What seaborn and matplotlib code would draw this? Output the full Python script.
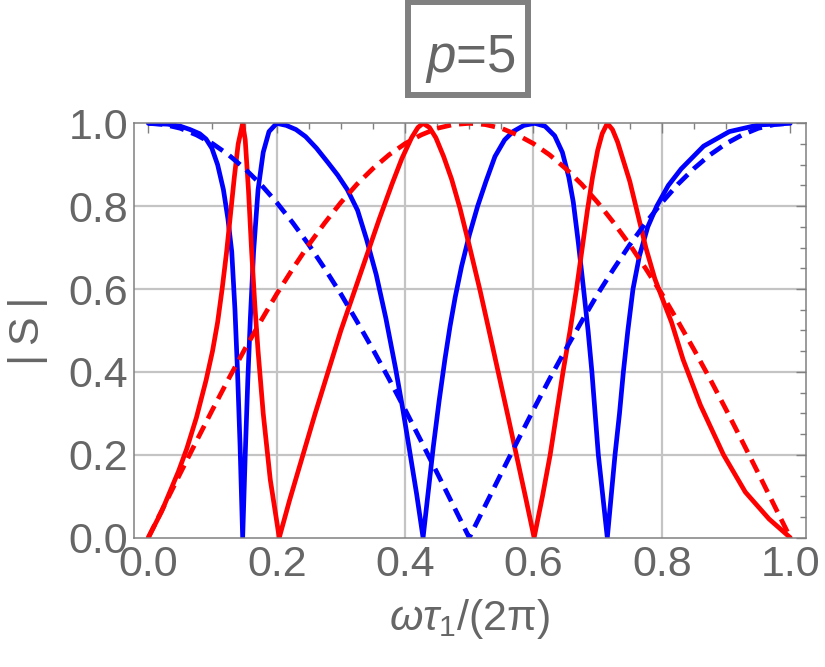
import numpy as np
import matplotlib
matplotlib.use("Agg")
import matplotlib.pyplot as plt
import pandas as pd
import seaborn as sns
from matplotlib.patches import Rectangle
from matplotlib.ticker import MultipleLocator, FormatStrFormatter

# values
blue_x = [0, 0.03, 0.05, 0.065, 0.08, 0.09, 0.099, 0.108, 0.117, 0.124, 0.13, 0.135,
          0.139, 0.143, 0.147, 0.151, 0.155, 0.159, 0.164, 0.171, 0.179, 0.188, 0.2,
          0.215, 0.23, 0.245, 0.262, 0.28, 0.295, 0.31, 0.326, 0.34, 0.355, 0.37,
          0.385, 0.397, 0.407, 0.418, 0.428, 0.436, 0.444, 0.453, 0.462, 0.47, 0.478,
          0.488, 0.5, 0.513, 0.526, 0.54, 0.555, 0.568, 0.585, 0.602, 0.618, 0.633,
          0.645, 0.655, 0.662, 0.67, 0.678, 0.685, 0.691, 0.696, 0.701, 0.708, 0.715,
          0.721, 0.727, 0.734, 0.74, 0.747, 0.755, 0.765, 0.778, 0.792, 0.81, 0.83,
          0.865, 0.905, 0.95, 1.0]
blue_y = [1.0, 0.998, 0.993, 0.985, 0.975, 0.962, 0.94, 0.90, 0.84, 0.77, 0.69, 0.55,
          0.40, 0.22, 0.0, 0.2, 0.38, 0.53, 0.69, 0.84, 0.93, 0.98, 1.0,
          0.995, 0.985, 0.968, 0.94, 0.905, 0.875, 0.84, 0.79, 0.72, 0.635, 0.53,
          0.41, 0.305, 0.21, 0.105, 0.0, 0.11, 0.22, 0.33, 0.43, 0.51, 0.58,
          0.655, 0.73, 0.80, 0.86, 0.92, 0.96, 0.98, 0.995, 1.0, 0.993, 0.97,
          0.93, 0.87, 0.81, 0.71, 0.60, 0.50, 0.40, 0.30, 0.20, 0.10, 0.0,
          0.1, 0.2, 0.3, 0.4, 0.5, 0.6, 0.68, 0.75, 0.80, 0.85, 0.89,
          0.945, 0.98, 0.996, 1.0]

red_x = [0, 0.021, 0.047, 0.06, 0.075, 0.09, 0.1, 0.108, 0.115, 0.122, 0.128, 0.134,
         0.14, 0.147, 0.151, 0.156, 0.161, 0.166, 0.171, 0.179, 0.19, 0.204,
         0.22, 0.24, 0.26, 0.28, 0.30, 0.32, 0.34, 0.36, 0.38, 0.395, 0.41, 0.42,
         0.428, 0.438, 0.448, 0.46, 0.4725, 0.4855, 0.5, 0.517, 0.53, 0.545, 0.56,
         0.574, 0.588, 0.601, 0.614, 0.626, 0.636, 0.646, 0.657, 0.667, 0.676, 0.684,
         0.692, 0.7, 0.707, 0.715, 0.723, 0.731, 0.738, 0.75, 0.761, 0.775, 0.789,
         0.8, 0.815, 0.833, 0.86, 0.896, 0.93, 0.967, 1.0]
red_y = [0.0, 0.064, 0.16, 0.215, 0.29, 0.38, 0.45, 0.52, 0.60, 0.69, 0.78, 0.87,
         0.95, 1.0, 0.96, 0.84, 0.69, 0.56, 0.45, 0.30, 0.14, 0.0,
         0.09, 0.195, 0.30, 0.40, 0.50, 0.59, 0.68, 0.77, 0.855, 0.915, 0.965, 0.99,
         1.0, 0.99, 0.965, 0.92, 0.865, 0.795, 0.705, 0.595, 0.505, 0.40, 0.295,
         0.195, 0.095, 0.0, 0.1, 0.2, 0.3, 0.4, 0.5, 0.6, 0.7, 0.79,
         0.87, 0.935, 0.975, 1.0, 0.985, 0.955, 0.92, 0.86, 0.79, 0.70, 0.625,
         0.58, 0.52, 0.43, 0.32, 0.2, 0.11, 0.045, 0.0]

dash_x = [0, 0.025, 0.05, 0.075, 0.1, 0.125, 0.15, 0.175, 0.2, 0.225, 0.25, 0.275,
          0.3, 0.325, 0.35, 0.375, 0.4, 0.425, 0.45, 0.475, 0.5, 0.525, 0.55, 0.575,
          0.6, 0.625, 0.65, 0.675, 0.7, 0.725, 0.75, 0.775, 0.8, 0.825, 0.85, 0.875,
          0.9, 0.925, 0.95, 0.975, 1.0]
blue_dash_y = [1.0, 0.997, 0.988, 0.972, 0.951, 0.924, 0.891, 0.853, 0.809, 0.760, 0.707,
               0.649, 0.588, 0.522, 0.454, 0.383, 0.309, 0.233, 0.156, 0.078, 0.0,
               0.078, 0.156, 0.233, 0.309, 0.383, 0.454, 0.522, 0.588, 0.649, 0.707,
               0.760, 0.809, 0.853, 0.891, 0.924, 0.951, 0.972, 0.988, 0.997, 1.0]
red_dash_y = [0.0, 0.078, 0.156, 0.233, 0.309, 0.383, 0.454, 0.522, 0.588, 0.649, 0.707,
              0.760, 0.809, 0.853, 0.891, 0.924, 0.951, 0.972, 0.988, 0.997, 1.0,
              0.997, 0.988, 0.972, 0.951, 0.924, 0.891, 0.853, 0.809, 0.760, 0.707,
              0.649, 0.588, 0.522, 0.454, 0.383, 0.309, 0.233, 0.156, 0.078, 0.0]

x_ticks = [0.0, 0.2, 0.4, 0.6, 0.8, 1.0]
y_ticks = [0.0, 0.2, 0.4, 0.6, 0.8, 1.0]

sns.set_style("white")
plt.rcParams['font.family'] = ['Liberation Sans', 'DejaVu Sans']
plt.rcParams['mathtext.fontset'] = 'custom'
plt.rcParams['mathtext.rm'] = 'Liberation Sans'
plt.rcParams['mathtext.it'] = 'Liberation Sans:italic'

gray = '#666666'
fig = plt.figure(figsize=(8.25, 6.67), dpi=100)
ax = fig.add_axes([0.1624, 0.1939, 0.8145, 0.6212])

for v in x_ticks[1:-1]:
    ax.axvline(v, color='#c4c4c4', lw=1.6, zorder=0)
for v in y_ticks[1:-1]:
    ax.axhline(v, color='#c4c4c4', lw=1.6, zorder=0)

lw = 3.4
sns.lineplot(x=blue_x, y=blue_y, ax=ax, color='#0000ff', lw=lw, estimator=None, sort=False)
sns.lineplot(x=red_x, y=red_y, ax=ax, color='#ff0000', lw=lw, estimator=None, sort=False)
l1 = sns.lineplot(x=dash_x, y=blue_dash_y, ax=ax, color='#0000ff', lw=lw, estimator=None, sort=False).lines[-1]
l1.set_dashes((3.0, 1.7))
l2 = sns.lineplot(x=dash_x, y=red_dash_y, ax=ax, color='#ff0000', lw=lw, estimator=None, sort=False).lines[-1]
l2.set_dashes((3.0, 1.7))

ax.set_xlim(-0.0223, 1.0244)
ax.set_ylim(0, 1)
ax.set_xticks(x_ticks)
ax.set_yticks(y_ticks)
ax.xaxis.set_minor_locator(MultipleLocator(0.05))
ax.yaxis.set_minor_locator(MultipleLocator(0.05))
ax.xaxis.set_major_formatter(FormatStrFormatter('%.1f'))
ax.yaxis.set_major_formatter(FormatStrFormatter('%.1f'))
ax.tick_params(which='both', direction='in', top=True, right=True, color='#808080', width=1.0)
ax.tick_params(which='major', length=7, labelsize=31, labelcolor=gray)
ax.tick_params(axis='x', which='major', pad=5)
ax.tick_params(axis='y', which='major', pad=4)
ax.tick_params(which='minor', length=4)
for s in ax.spines.values():
    s.set_color('#808080')
    s.set_linewidth(1.1)

ax.set_xlabel(r'$\omega\tau_1/(2\mathrm{\pi})$', fontsize=31, color=gray, labelpad=9)
ax.set_ylabel('|\u2009S\u2009|', fontsize=31, color=gray, labelpad=15)

# boxed panel title
fig.patches.append(Rectangle((0.4945, 0.8576), 0.1455, 0.1394, transform=fig.transFigure,
                             fc='white', ec='#808080', lw=4.3))
fig.text(0.5697, 0.892, r'$p$=5', fontsize=38, color=gray, ha='center', va='baseline')

plt.savefig('out.png', dpi=100)
